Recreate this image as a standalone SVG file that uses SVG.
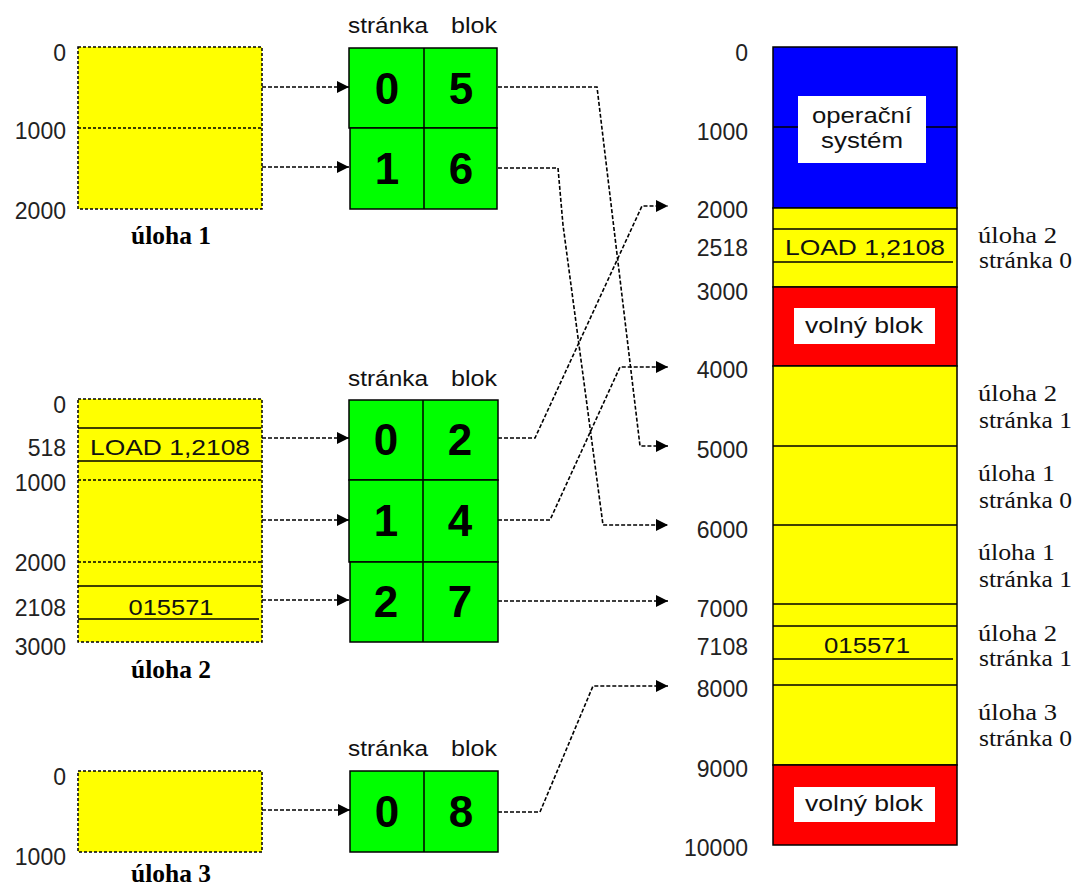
<svg xmlns="http://www.w3.org/2000/svg" width="1075" height="890" viewBox="0 0 1075 890">
<style>
.bg{fill:#ffffff}
.task{fill:#ffff00;stroke:#000;stroke-width:1.5;stroke-dasharray:3 2}
.dl{stroke:#000;stroke-width:1.5;stroke-dasharray:3 2;fill:none}
.sl{stroke:#000;stroke-width:1.5;fill:none}
.pt{fill:#00ff00;stroke:#000;stroke-width:1.5}
.yel{fill:#ffff00;stroke:#000;stroke-width:1.5}
.blue{fill:#0000ff;stroke:#000;stroke-width:1.5}
.red{fill:#ff0000;stroke:#000;stroke-width:1.5}
.wb{fill:#ffffff}
.addr{font-family:"Liberation Sans",Arial,sans-serif;font-size:23px;fill:#222;text-anchor:end}
.lbl{font-family:"Liberation Sans",Arial,sans-serif;font-size:22px;fill:#111}
.mid{text-anchor:middle}
.dig{font-family:"Liberation Sans",Arial,sans-serif;font-size:44px;font-weight:bold;fill:#000;text-anchor:middle}
.tn{font-family:"Liberation Serif","Times New Roman",serif;font-size:25px;font-weight:bold;fill:#000;text-anchor:middle}
.rl{font-family:"Liberation Serif","Times New Roman",serif;font-size:23px;fill:#111}
.con{stroke:#000;stroke-width:1.6;stroke-dasharray:4 2;fill:none;marker-end:url(#ah)}
</style>
<defs>
<marker id="ah" markerUnits="userSpaceOnUse" markerWidth="12" markerHeight="12" refX="12" refY="6" orient="auto">
<path d="M0,0 L12,6 L0,12 z" fill="#000"/>
</marker>
</defs>
<rect class="bg" x="0" y="0" width="1075" height="890"/>

<g id="task1">
<rect class="task" x="78" y="47" width="184" height="162"/>
<line class="dl" x1="78" y1="128" x2="262" y2="128"/>
<text class="addr" x="66" y="61">0</text>
<text class="addr" x="66" y="139">1000</text>
<text class="addr" x="66" y="219">2000</text>
<text class="tn" x="171" y="244" textLength="80" lengthAdjust="spacingAndGlyphs">úloha 1</text>
</g>

<g id="pagetable1">
<text class="lbl" y="33"><tspan x="348" textLength="80" lengthAdjust="spacingAndGlyphs">stránka</tspan><tspan x="451" textLength="46" lengthAdjust="spacingAndGlyphs">blok</tspan></text>
<rect class="pt" x="349" y="48" width="148" height="80"/>
<rect class="pt" x="350" y="128" width="147" height="81"/>
<line class="sl" x1="424" y1="48" x2="424" y2="209"/>
<text class="dig" x="387" y="104">0</text>
<text class="dig" x="461" y="104">5</text>
<text class="dig" x="387" y="184">1</text>
<text class="dig" x="461" y="184">6</text>
</g>

<g id="task2">
<rect class="task" x="78" y="399" width="184" height="243"/>
<line class="dl" x1="78" y1="480" x2="262" y2="480"/>
<line class="dl" x1="78" y1="562" x2="262" y2="562"/>
<line class="sl" x1="78" y1="428" x2="261" y2="428"/>
<line class="sl" x1="78" y1="461" x2="261" y2="461"/>
<line class="sl" x1="78" y1="586" x2="261" y2="586"/>
<line class="sl" x1="78" y1="619" x2="259" y2="619"/>
<text class="lbl mid" x="170" y="455" font-size="23" textLength="160" lengthAdjust="spacingAndGlyphs">LOAD 1,2108</text>
<text class="lbl mid" x="171" y="615" font-size="23" textLength="85" lengthAdjust="spacingAndGlyphs">015571</text>
<text class="addr" x="66" y="413">0</text>
<text class="addr" x="66" y="456">518</text>
<text class="addr" x="66" y="491">1000</text>
<text class="addr" x="66" y="571">2000</text>
<text class="addr" x="66" y="616">2108</text>
<text class="addr" x="66" y="655">3000</text>
<text class="tn" x="171" y="678" textLength="80" lengthAdjust="spacingAndGlyphs">úloha 2</text>
</g>

<g id="pagetable2">
<text class="lbl" y="386"><tspan x="348" textLength="80" lengthAdjust="spacingAndGlyphs">stránka</tspan><tspan x="451" textLength="46" lengthAdjust="spacingAndGlyphs">blok</tspan></text>
<rect class="pt" x="349" y="400" width="149" height="80"/>
<rect class="pt" x="349" y="480" width="149" height="82"/>
<rect class="pt" x="350" y="562" width="148" height="80"/>
<line class="sl" x1="423" y1="400" x2="423" y2="642"/>
<text class="dig" x="386" y="455">0</text>
<text class="dig" x="460" y="455">2</text>
<text class="dig" x="386" y="536">1</text>
<text class="dig" x="460" y="536">4</text>
<text class="dig" x="386" y="617">2</text>
<text class="dig" x="460" y="617">7</text>
</g>

<g id="task3">
<rect class="task" x="78" y="771" width="184" height="81"/>
<text class="addr" x="66" y="785">0</text>
<text class="addr" x="66" y="865">1000</text>
<text class="tn" x="171" y="882" textLength="80" lengthAdjust="spacingAndGlyphs">úloha 3</text>
</g>

<g id="pagetable3">
<text class="lbl" y="756"><tspan x="348" textLength="80" lengthAdjust="spacingAndGlyphs">stránka</tspan><tspan x="451" textLength="46" lengthAdjust="spacingAndGlyphs">blok</tspan></text>
<rect class="pt" x="350" y="771" width="148" height="81"/>
<line class="sl" x1="424" y1="771" x2="424" y2="852"/>
<text class="dig" x="387" y="827">0</text>
<text class="dig" x="461" y="827">8</text>
</g>

<g id="memory">
<rect class="blue" x="773" y="47" width="184" height="161"/>
<line class="sl" x1="773" y1="127" x2="957" y2="127"/>
<rect class="wb" x="798" y="96" width="128" height="67"/>
<text class="lbl mid" x="862" y="123" textLength="100" lengthAdjust="spacingAndGlyphs">operační</text>
<text class="lbl mid" x="862" y="148" textLength="82" lengthAdjust="spacingAndGlyphs">systém</text>
<rect class="yel" x="773" y="208" width="184" height="79"/>
<line class="sl" x1="773" y1="229" x2="957" y2="229"/>
<line class="sl" x1="773" y1="262" x2="953" y2="262"/>
<text class="lbl mid" x="865" y="255" font-size="23" textLength="160" lengthAdjust="spacingAndGlyphs">LOAD 1,2108</text>
<rect class="red" x="773" y="287" width="184" height="79"/>
<rect class="wb" x="794" y="308" width="141" height="36"/>
<text class="lbl mid" x="864" y="333" textLength="118" lengthAdjust="spacingAndGlyphs">volný blok</text>
<rect class="yel" x="773" y="366" width="184" height="399"/>
<line class="sl" x1="773" y1="446" x2="957" y2="446"/>
<line class="sl" x1="773" y1="525" x2="957" y2="525"/>
<line class="sl" x1="773" y1="604" x2="957" y2="604"/>
<line class="sl" x1="773" y1="626" x2="957" y2="626"/>
<line class="sl" x1="773" y1="659" x2="953" y2="659"/>
<line class="sl" x1="773" y1="685" x2="957" y2="685"/>
<text class="lbl mid" x="867" y="653" font-size="23" textLength="86" lengthAdjust="spacingAndGlyphs">015571</text>
<rect class="red" x="773" y="765" width="184" height="80"/>
<rect class="wb" x="794" y="787" width="141" height="35"/>
<text class="lbl mid" x="864" y="811" textLength="118" lengthAdjust="spacingAndGlyphs">volný blok</text>
<text class="addr" x="748" y="61">0</text>
<text class="addr" x="748" y="140">1000</text>
<text class="addr" x="748" y="218">2000</text>
<text class="addr" x="748" y="256">2518</text>
<text class="addr" x="748" y="300">3000</text>
<text class="addr" x="748" y="378">4000</text>
<text class="addr" x="748" y="458">5000</text>
<text class="addr" x="748" y="538">6000</text>
<text class="addr" x="748" y="617">7000</text>
<text class="addr" x="748" y="655">7108</text>
<text class="addr" x="748" y="697">8000</text>
<text class="addr" x="748" y="777">9000</text>
<text class="addr" x="748" y="856">10000</text>
</g>

<g id="memory-labels">
<text class="rl" x="978" y="243" textLength="79" lengthAdjust="spacingAndGlyphs">úloha 2</text>
<text class="rl" x="979" y="268" textLength="93" lengthAdjust="spacingAndGlyphs">stránka 0</text>
<text class="rl" x="978" y="401" textLength="79" lengthAdjust="spacingAndGlyphs">úloha 2</text>
<text class="rl" x="979" y="428" textLength="93" lengthAdjust="spacingAndGlyphs">stránka 1</text>
<text class="rl" x="978" y="481" textLength="77" lengthAdjust="spacingAndGlyphs">úloha 1</text>
<text class="rl" x="979" y="508" textLength="93" lengthAdjust="spacingAndGlyphs">stránka 0</text>
<text class="rl" x="978" y="560" textLength="77" lengthAdjust="spacingAndGlyphs">úloha 1</text>
<text class="rl" x="979" y="587" textLength="93" lengthAdjust="spacingAndGlyphs">stránka 1</text>
<text class="rl" x="978" y="641" textLength="79" lengthAdjust="spacingAndGlyphs">úloha 2</text>
<text class="rl" x="979" y="666" textLength="93" lengthAdjust="spacingAndGlyphs">stránka 1</text>
<text class="rl" x="978" y="720" textLength="79" lengthAdjust="spacingAndGlyphs">úloha 3</text>
<text class="rl" x="979" y="746" textLength="93" lengthAdjust="spacingAndGlyphs">stránka 0</text>
</g>

<g id="connectors">
<path class="con" d="M262,87 H349"/>
<path class="con" d="M262,167 H349"/>
<path class="con" d="M262,438 H349"/>
<path class="con" d="M262,520 H349"/>
<path class="con" d="M262,600 H349"/>
<path class="con" d="M262,810 H350"/>
<path class="con" d="M498,87 H597 L600,112 L640,446 H668"/>
<path class="con" d="M498,168 H558 L563,225 L603,525 H668"/>
<path class="con" d="M498,438 H535 L642,206 H668"/>
<path class="con" d="M498,520 H550 L620,367 H668"/>
<path class="con" d="M498,601 H668"/>
<path class="con" d="M498,812 H540 L593,686 H668"/>
</g>
</svg>
